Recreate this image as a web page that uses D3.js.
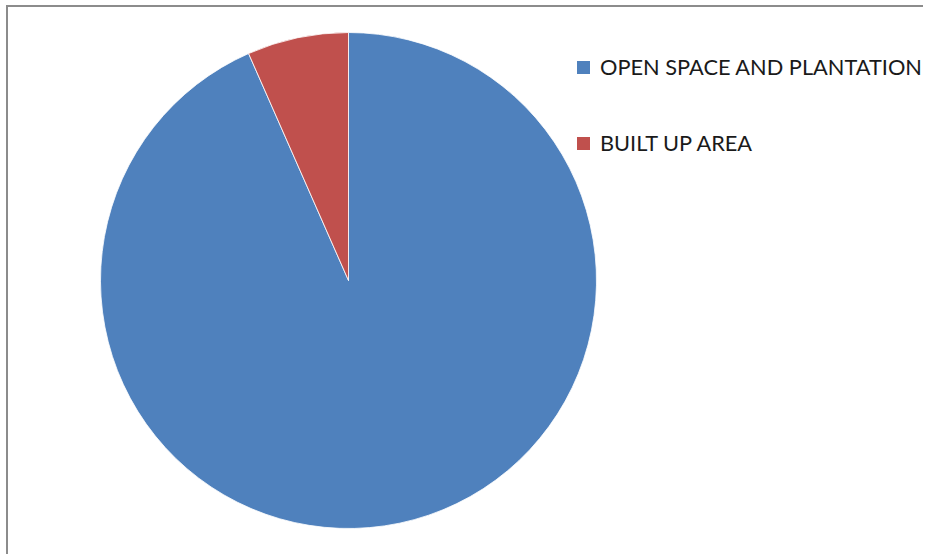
<!DOCTYPE html>
<html>
<head>
<meta charset="utf-8">
<script src="https://cdn.jsdelivr.net/npm/d3@7"></script>
<style>
  body { margin: 0; background: #fff; }
  svg { display: block; }
</style>
</head>
<body>
<div id="chart"></div>
<script>
// slice data (percent of total area)
const categories = ["OPEN SPACE AND PLANTATION", "BUILT UP AREA"];
const values = [93.4, 6.6];
const colors = ["#4f81bd", "#c0504d"];

const width = 927, height = 554;
const cx = 348.5, cy = 280.5, radius = 248;

const svg = d3.select("#chart")
  .append("svg")
  .attr("width", width)
  .attr("height", height);

svg.append("rect")
  .attr("width", width)
  .attr("height", height)
  .attr("fill", "#fff");

// chart frame (only top and left edges are visible in the crop)
svg.append("path")
  .attr("d", "M7,554 L7,6 L923,6")
  .attr("fill", "none")
  .attr("stroke", "#8c8c8c")
  .attr("stroke-width", 2);

const data = categories.map((c, i) => ({name: c, value: values[i], color: colors[i]}));

const pie = d3.pie()
  .value(d => d.value)
  .sort(null);

const arc = d3.arc()
  .innerRadius(0)
  .outerRadius(radius);

const g = svg.append("g")
  .attr("transform", "translate(" + cx + "," + cy + ")");

g.selectAll("path")
  .data(pie(data))
  .join("path")
    .attr("d", arc)
    .attr("fill", d => d.data.color)
    .attr("stroke", "#fff")
    .attr("stroke-width", 0.8);

// legend
const legend = svg.append("g")
  .attr("transform", "translate(577,61)");

const item = legend.selectAll("g")
  .data(data)
  .join("g")
    .attr("transform", (d, i) => "translate(0," + (i * 76) + ")");

item.append("rect")
  .attr("width", 13)
  .attr("height", 13)
  .attr("fill", d => d.color);

item.append("text")
  .attr("x", 23)
  .attr("y", 14)
  .attr("font-family", "Lato, 'Open Sans', sans-serif")
  .attr("font-size", 20)
  .attr("fill", "#1a1a1a")
  .text(d => d.name);

// scale the labels so the first one spans the width seen in the reference
const first = item.select("text").node();
const w = first.getComputedTextLength();
const target = 322;
if (w > 0) {
  item.selectAll("text").attr("font-size", 20 * target / w);
}
</script>
</body>
</html>
